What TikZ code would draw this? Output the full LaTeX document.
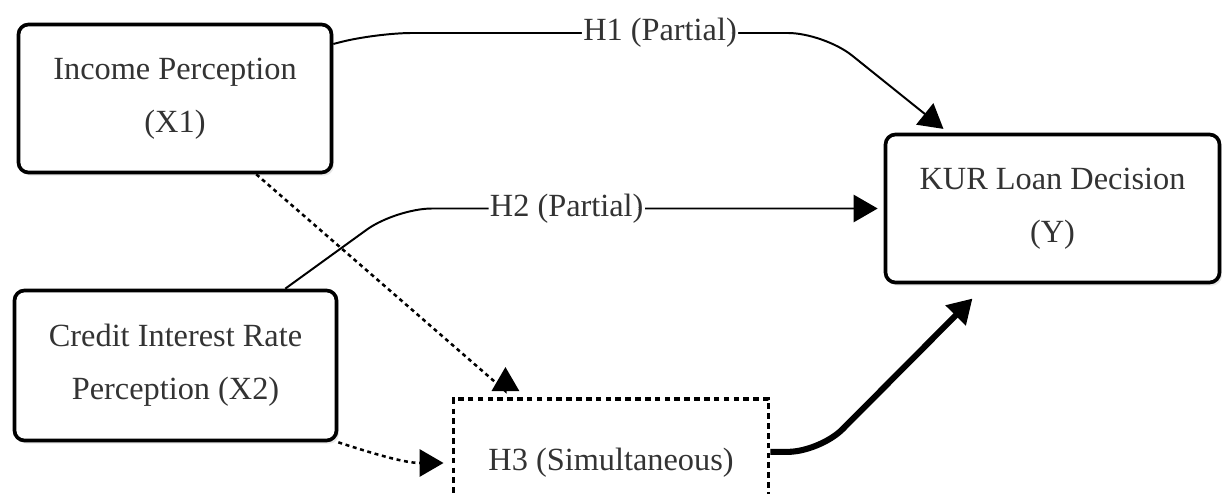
\documentclass[tikz,border=0pt]{standalone}
\usepackage{fontspec}
\setmainfont{Liberation Serif}
\usetikzlibrary{arrows.meta,shadows}

\definecolor{txtgray}{HTML}{333333}

\begin{document}
\begin{tikzpicture}[
  every node/.style = {font=\fontsize{23}{37.7}\selectfont, text=txtgray},
  varbox/.style = {draw, line width=2.6pt, rounded corners=0.25cm, fill=white,
                   align=center, drop shadow={opacity=0.18, shadow xshift=0.06cm,
                   shadow yshift=-0.08cm}},
  hypbox/.style = {draw, line width=2.8pt, dash pattern=on 4pt off 3pt,
                   fill=white, align=center},
  headtip/.style = {-{Triangle[length=0.6cm, width=0.68cm]}},
  link/.style = {headtip, line width=1.4pt, rounded corners=0.9cm, shorten >=0.15cm},
  dotlink/.style = {headtip, line width=1.8pt, dash pattern=on 2.8pt off 2.6pt},
  boldlink/.style = {headtip, line width=4.3pt, rounded corners=0.8cm, shorten >=0.5cm},
  lbl/.style = {fill=white, inner sep=1pt},
]

% ── Canvas ────────────────────────────────────────────────────────────────
\useasboundingbox (0,0) rectangle (30.55,12.325);

% ── Variables ─────────────────────────────────────────────────────────────
\node[varbox, minimum width=7.825cm, minimum height=3.7cm] (x1) at (4.375,9.8625)
  {Income Perception\\(X1)};
\node[varbox, minimum width=8.05cm, minimum height=3.75cm] (x2) at (4.3875,3.1875)
  {Credit Interest Rate\\Perception (X2)};
\node[varbox, minimum width=8.35cm, minimum height=3.7cm] (y) at (26.3125,7.1125)
  {KUR Loan Decision\\(Y)};

% ── Simultaneous hypothesis (runs off the bottom) ─────────────────────────
\node[hypbox, minimum width=7.875cm, minimum height=3.2cm] (h3) at (15.275,0.75)
  {H3 (Simultaneous)};

% ── Partial paths ─────────────────────────────────────────────────────────
\draw[link] (x1.19) -- (9.4,11.5)
  -- node[lbl, pos=0.634] {H1 (Partial)} (20.6,11.5) -- (y.144);
\draw[link] (x2.35) -- (9.9,0 |- y.west)
  -- node[lbl, pos=0.35] {H2 (Partial)} (y.west);

% ── Into H3 ───────────────────────────────────────────────────────────────
\draw[dotlink] (x1.-43) -- ([yshift=0.15cm]h3.148) -- ([yshift=0.75cm]h3.148);
\draw[dotlink, shorten >=0.2cm] (x2.south east) to[out=-18, in=180] (h3.180);

% ── H3 to Y ───────────────────────────────────────────────────────────────
\draw[boldlink] (h3.4) -- (20.5,0 |- h3.4) -- (y.-131);

\end{tikzpicture}
\end{document}
